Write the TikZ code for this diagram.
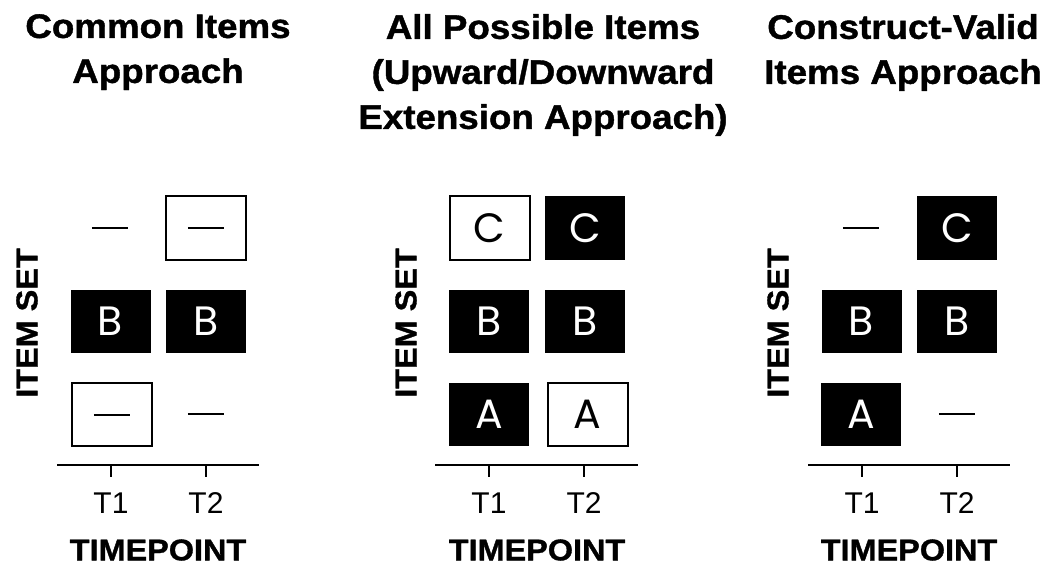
\documentclass[tikz,border=0pt]{standalone}
\usepackage{fontspec}
\newfontfamily\hv[FakeStretch=1.08,BoldFeatures={FakeBold=1.2}]{Liberation Sans}
\newfontfamily\hvr{Liberation Sans}
\newfontfamily\boxfont{Poppins}
\begin{document}
\begin{tikzpicture}[x=1pt,y=-1pt,
  title/.style={align=center,anchor=north,inner sep=0pt,font={\hv\bfseries\fontsize{34}{45}\selectfont}},
  axlabel/.style={inner sep=0pt,font={\hv\bfseries\fontsize{30}{36}\selectfont}},
  tlabel/.style={inner sep=0pt,anchor=base,font={\hvr\fontsize{30}{34}\selectfont}},
  cell/.style={minimum width=80pt,minimum height=63pt,inner sep=0pt,font={\boxfont\fontsize{41}{44}\selectfont}},
  filled/.style={cell,fill=black,text=white},
  hollow/.style={cell,draw=black,line width=2pt,fill=white,text=black},
  nil/.style={minimum width=36pt,minimum height=2pt,inner sep=0pt},
  dashline/.style={line width=2pt},
  axis/.style={line width=2pt},
  tickline/.style={line width=2pt}]
\useasboundingbox (0,0) rectangle (1053,567);

% ---------- Titles ----------
\node[title] (t1) at (158,14) {Common Items\\Approach};
\node[title] (t2) at (543,14) {All Possible Items\\(Upward/Downward\\Extension Approach)};
\node[title] (t3) at (903,14) {Construct-Valid\\Items Approach};

% ---------- Panel 1 ----------
\node[axlabel,rotate=90] (ys1) at (27,323) {ITEM SET};
\node[nil] (p1a) at (110,228) {};
\draw[dashline] (p1a.west) -- (p1a.east);
\node[hollow] (p1b) at (206,228) {};
\node[nil] (p1bd) at (206,228) {};
\draw[dashline] (p1bd.west) -- (p1bd.east);
\node[filled] (p1c) at (110.5,321.5) {B};
\node[filled] (p1d) at (206,321.5) {B};
\node[hollow] (p1e) at (112,414.5) {};
\node[nil] (p1ed) at (112,414.5) {};
\draw[dashline] (p1ed.west) -- (p1ed.east);
\node[nil] (p1f) at (206,414) {};
\draw[dashline] (p1f.west) -- (p1f.east);
\coordinate (ax1l) at (57,465);
\coordinate (ax1r) at (259,465);
\draw[axis] (ax1l) -- (ax1r);
\coordinate (k1a) at (111,465);
\coordinate (k1b) at (206,465);
\draw[tickline] (k1a) -- ++(0,12);
\draw[tickline] (k1b) -- ++(0,12);
\node[tlabel] (l1a) at (111,513) {T1};
\node[tlabel] (l1b) at (206,513) {T2};
\node[axlabel] (xs1) at (158,550) {TIMEPOINT};

% ---------- Panel 2 ----------
\node[axlabel,rotate=90] (ys2) at (406,323) {ITEM SET};
\node[hollow] (p2a) at (489.5,228) {C};
\node[filled] (p2b) at (585,228) {C};
\node[filled] (p2c) at (489,321.5) {B};
\node[filled] (p2d) at (585,321.5) {B};
\node[filled] (p2e) at (489,414) {A};
\node[hollow] (p2f) at (587.5,414.5) {A};
\coordinate (ax2l) at (435,465);
\coordinate (ax2r) at (638,465);
\draw[axis] (ax2l) -- (ax2r);
\coordinate (k2a) at (489,465);
\coordinate (k2b) at (584,465);
\draw[tickline] (k2a) -- ++(0,12);
\draw[tickline] (k2b) -- ++(0,12);
\node[tlabel] (l2a) at (489,513) {T1};
\node[tlabel] (l2b) at (584,513) {T2};
\node[axlabel] (xs2) at (537,550) {TIMEPOINT};

% ---------- Panel 3 ----------
\node[axlabel,rotate=90] (ys3) at (778,323) {ITEM SET};
\node[nil] (p3a) at (861,228) {};
\draw[dashline] (p3a.west) -- (p3a.east);
\node[filled] (p3b) at (957,228) {C};
\node[filled] (p3c) at (861.5,321.5) {B};
\node[filled] (p3d) at (957,321.5) {B};
\node[filled] (p3e) at (861,414) {A};
\node[nil] (p3f) at (957,414) {};
\draw[dashline] (p3f.west) -- (p3f.east);
\coordinate (ax3l) at (808,465);
\coordinate (ax3r) at (1010,465);
\draw[axis] (ax3l) -- (ax3r);
\coordinate (k3a) at (862,465);
\coordinate (k3b) at (957,465);
\draw[tickline] (k3a) -- ++(0,12);
\draw[tickline] (k3b) -- ++(0,12);
\node[tlabel] (l3a) at (862,513) {T1};
\node[tlabel] (l3b) at (957,513) {T2};
\node[axlabel] (xs3) at (909,550) {TIMEPOINT};
\end{tikzpicture}
\end{document}
